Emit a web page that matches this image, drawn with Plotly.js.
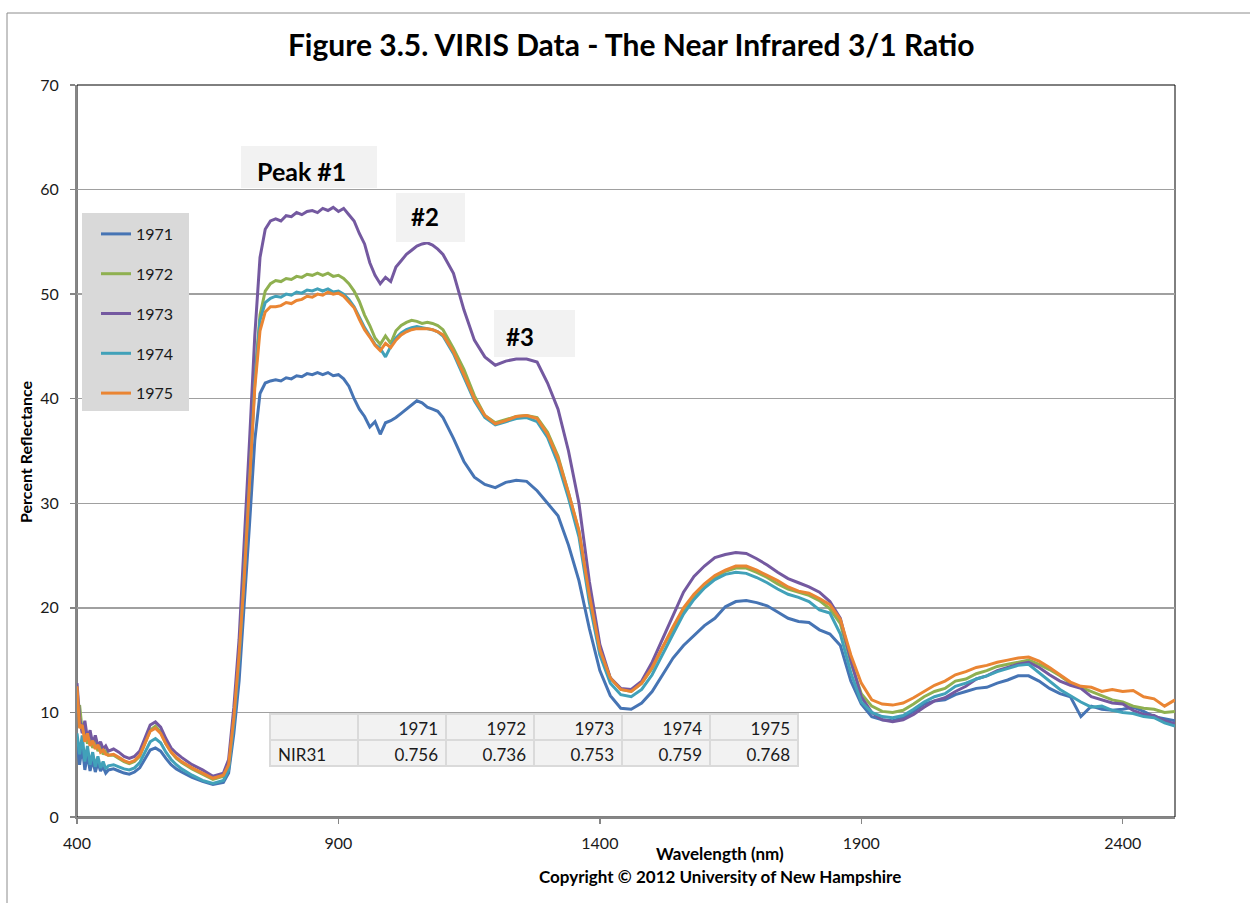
<!DOCTYPE html>
<html>
<head>
<meta charset="utf-8">
<script src="https://cdn.plot.ly/plotly-3.0.1.min.js"></script>
<style>html,body{margin:0;padding:0;background:#fff;}#chart{width:1250px;height:903px;}</style>
</head>
<body>
<div id="chart"></div>
<script>
// Wavelength grid (nm)
const wavelength = [
400,405,410,415,420,425,430,435,440,445,450,455,460,
470,480,490,500,510,520,530,540,550,560,570,580,590,600,
620,640,660,680,
690,700,710,720,730,740,750,760,770,
780,790,800,810,820,830,840,850,860,870,880,890,900,910,920,930,
940,950,960,970,980,990,1000,
1010,1020,1030,1040,1050,1060,1070,1080,1090,1100,
1120,1140,1160,1180,1200,1220,1240,1260,1280,1300,
1320,1340,1360,1380,1400,1420,1440,1460,1480,1500,
1520,1540,1560,1580,1600,1620,1640,1660,1680,1700,
1720,1740,1760,1780,1800,1820,1840,1860,1880,1900,
1920,1940,1960,1980,2000,2020,2040,2060,2080,2100,
2120,2140,2160,2180,2200,2220,2240,2260,2280,2300,
2320,2340,2360,2380,2400,2420,2440,2460,2480,2500
];

const refl1971 = [
7.0,5.0,6.8,4.5,6.0,4.4,5.5,4.3,5.2,4.4,4.8,4.2,4.5,
4.6,4.4,4.2,4.1,4.3,4.7,5.6,6.4,6.6,6.3,5.6,5.0,4.6,4.3,
3.8,3.4,3.1,3.3,
4.2,8.0,13.0,20.0,28.0,36.0,40.5,41.5,41.7,
41.8,41.7,42.0,41.9,42.2,42.1,42.4,42.3,42.5,42.3,42.5,42.2,42.3,41.9,41.2,40.0,
39.0,38.3,37.3,37.8,36.6,37.7,37.9,
38.2,38.6,39.0,39.4,39.8,39.6,39.2,39.0,38.8,38.2,
36.2,34.0,32.5,31.8,31.5,32.0,32.2,32.1,31.2,30.0,
28.8,26.0,22.6,18.0,14.0,11.6,10.4,10.3,10.9,12.0,
13.6,15.2,16.4,17.4,18.3,19.0,20.1,20.6,20.7,20.5,
20.2,19.6,19.0,18.7,18.6,17.9,17.5,16.4,13.0,10.8,
9.6,9.3,9.2,9.5,10.1,10.8,11.1,11.2,11.7,12.0,
12.3,12.4,12.8,13.1,13.5,13.5,13.0,12.3,11.8,11.5,
9.6,10.6,10.3,10.2,10.3,10.5,10.1,9.6,9.4,9.2
];

const refl1972 = [
10.0,10.7,8.2,8.6,7.0,7.8,6.6,7.4,6.3,6.8,6.0,6.3,5.9,
5.9,5.6,5.3,5.1,5.3,5.8,7.0,8.3,8.7,8.1,7.0,6.2,5.6,5.2,
4.6,4.1,3.6,3.9,
4.9,9.5,15.5,23.5,33.0,42.0,48.0,50.3,51.0,
51.3,51.2,51.5,51.4,51.7,51.6,51.9,51.8,52.0,51.8,52.0,51.7,51.8,51.5,51.0,50.3,
49.3,48.0,47.0,45.8,45.2,46.0,45.3,
46.5,47.0,47.3,47.5,47.4,47.2,47.3,47.2,47.0,46.6,
44.8,42.8,40.3,38.4,37.7,38.0,38.3,38.4,38.2,36.8,
34.5,31.0,27.3,21.0,16.0,13.3,12.2,12.0,12.8,14.2,
16.2,18.0,19.8,21.0,22.0,22.9,23.5,23.8,23.8,23.4,
22.9,22.3,21.8,21.5,21.2,20.7,19.9,18.5,14.8,11.8,
10.6,10.1,10.0,10.2,10.8,11.5,12.0,12.3,13.0,13.2,
13.7,14.0,14.4,14.6,14.8,15.0,14.6,14.1,13.5,12.8,
12.4,12.0,11.6,11.2,11.0,10.6,10.4,10.3,10.0,10.1
];

const refl1973 = [
12.8,9.5,8.0,9.2,7.5,8.3,7.0,7.8,6.8,7.2,6.5,6.8,6.3,
6.5,6.2,5.8,5.6,5.8,6.3,7.6,8.8,9.1,8.6,7.5,6.6,6.1,5.7,
5.0,4.5,3.9,4.2,
5.5,10.5,17.0,26.0,36.0,46.0,53.5,56.2,57.0,
57.2,57.0,57.5,57.4,57.8,57.6,57.9,58.0,57.8,58.2,58.0,58.3,57.9,58.2,57.6,57.0,
55.8,54.8,53.0,51.8,51.0,51.6,51.2,
52.6,53.2,53.8,54.2,54.6,54.8,54.9,54.7,54.3,53.8,
52.0,48.5,45.6,44.0,43.2,43.6,43.8,43.8,43.5,41.5,
39.0,35.0,30.0,22.5,16.5,13.3,12.3,12.2,13.0,14.8,
17.0,19.3,21.5,23.0,24.0,24.8,25.1,25.3,25.2,24.7,
24.1,23.4,22.8,22.4,22.0,21.5,20.6,19.0,15.0,11.5,
10.0,9.3,9.1,9.3,9.8,10.5,11.1,11.4,12.0,12.5,
13.2,13.5,14.0,14.3,14.6,14.8,14.3,13.6,13.0,12.6,
12.3,11.5,11.2,10.9,10.8,10.2,9.8,9.7,9.2,8.9
];

const refl1974 = [
8.0,6.0,7.8,5.3,6.8,5.0,6.2,4.8,5.8,4.7,5.3,4.6,4.9,
5.0,4.8,4.6,4.5,4.7,5.2,6.2,7.2,7.5,7.1,6.2,5.5,5.0,4.6,
4.0,3.5,3.2,3.5,
4.5,9.0,15.0,23.0,32.0,41.5,47.5,49.2,49.6,
49.8,49.7,50.0,49.9,50.2,50.1,50.4,50.3,50.5,50.3,50.5,50.2,50.3,50.0,49.5,48.8,
47.8,46.8,46.0,45.2,44.8,44.0,45.0,
45.8,46.3,46.6,46.8,46.9,46.8,46.7,46.6,46.4,46.0,
44.3,42.0,39.8,38.2,37.5,37.8,38.1,38.2,37.8,36.3,
33.8,30.5,26.8,20.5,15.5,12.8,11.7,11.5,12.2,13.6,
15.6,17.5,19.4,20.8,21.9,22.7,23.2,23.4,23.3,22.9,
22.4,21.8,21.3,21.0,20.6,19.8,19.5,17.5,13.8,11.0,
10.0,9.6,9.5,9.7,10.3,11.0,11.5,11.8,12.5,12.8,
13.2,13.5,13.9,14.2,14.5,14.6,13.8,13.0,12.2,11.6,
11.0,10.5,10.6,10.2,10.0,9.9,9.6,9.5,9.0,8.7
];

const refl1975 = [
12.5,8.5,8.8,7.2,8.0,6.8,7.3,6.5,6.9,6.2,6.4,6.0,5.9,
6.0,5.7,5.4,5.2,5.4,5.9,7.0,8.2,8.5,8.0,7.0,6.2,5.7,5.3,
4.7,4.2,3.7,4.0,
5.0,9.5,15.5,23.0,32.0,41.0,46.5,48.3,48.8,
48.8,48.9,49.2,49.1,49.4,49.5,49.8,49.7,50.0,49.9,50.2,50.0,50.1,49.8,49.3,48.7,
47.6,46.6,45.9,45.1,44.6,45.3,44.9,
45.6,46.1,46.4,46.6,46.7,46.7,46.7,46.6,46.4,46.1,
44.5,42.3,40.0,38.4,37.6,37.9,38.3,38.4,38.1,36.6,
34.3,31.0,27.4,21.2,16.0,13.3,12.2,12.0,12.8,14.3,
16.3,18.2,20.0,21.3,22.3,23.1,23.6,24.0,24.0,23.6,
23.1,22.6,22.0,21.6,21.4,20.9,20.3,18.9,15.5,12.8,
11.2,10.8,10.7,10.9,11.4,12.0,12.6,13.0,13.6,13.9,
14.3,14.5,14.8,15.0,15.2,15.3,14.9,14.3,13.6,12.9,
12.5,12.4,12.0,12.2,12.0,12.1,11.5,11.3,10.6,11.2
];

const years = ['1971','1972','1973','1974','1975'];
const nir31 = [0.756, 0.736, 0.753, 0.759, 0.768];
const seriesData = [refl1971, refl1972, refl1973, refl1974, refl1975];
const colors = ['#4674b4','#8fb050','#7459a0','#41a1b9','#ea8533'];
const xTicks = [400, 900, 1400, 1900, 2400];

// Plot area geometry helpers (page pixels -> paper)
const L = 77, R = 1175, T = 85, B = 817;
const px = v => (v - L) / (R - L);
const py = v => 1 - (v - T) / (B - T);

const FONT = 'Lato, "Open Sans", sans-serif';

const traces = seriesData.map((ys, i) => ({
  type: 'scatter', mode: 'lines', name: years[i],
  x: wavelength, y: ys,
  line: {color: colors[i], width: 3},
  legendgroup: 'g' + years[i],
  hoverinfo: 'x+y+name'
}));

traces.push({
  type: 'table',
  domain: {x: [px(270), px(798)], y: [py(767), py(714)]},
  columnwidth: [1,1,1,1,1,1],
  header: {
    values: [''].concat(years),
    align: ['left','right','right','right','right','right'],
    fill: {color: '#f2f2f2'},
    line: {color: '#dadada', width: 2},
    font: {family: FONT, size: 17, color: '#1a1a1a'},
    height: 26
  },
  cells: {
    values: [['NIR31']].concat(nir31.map(v => [v.toFixed(3)])),
    align: ['left','right','right','right','right','right'],
    fill: {color: '#f2f2f2'},
    line: {color: '#dadada', width: 2},
    font: {family: FONT, size: 17, color: '#1a1a1a'},
    height: 26
  }
});

const shapes = [
  // outer frame
  {type: 'rect', xref: 'paper', yref: 'paper', x0: px(7), x1: px(1270), y0: py(920), y1: py(13),
   line: {color: '#8c8c8c', width: 1}, fillcolor: 'rgba(0,0,0,0)', layer: 'below'},
  // plot border
  {type: 'rect', xref: 'paper', yref: 'paper', x0: 0, x1: 1, y0: 0, y1: 1,
   line: {color: '#000000', width: 1}, fillcolor: 'rgba(0,0,0,0)', layer: 'below'},
  // legend background
  {type: 'rect', xref: 'paper', yref: 'paper', x0: px(82), x1: px(189), y0: py(411), y1: py(213),
   line: {width: 0}, fillcolor: '#d9d9d9', layer: 'above'},
  // label boxes
  {type: 'rect', xref: 'paper', yref: 'paper', x0: px(241), x1: px(377), y0: py(188), y1: py(146),
   line: {width: 0}, fillcolor: '#f2f2f2', layer: 'above'},
  {type: 'rect', xref: 'paper', yref: 'paper', x0: px(396), x1: px(465), y0: py(242), y1: py(193),
   line: {width: 0}, fillcolor: '#f2f2f2', layer: 'above'},
  {type: 'rect', xref: 'paper', yref: 'paper', x0: px(494), x1: px(575), y0: py(357), y1: py(310),
   line: {width: 0}, fillcolor: '#f2f2f2', layer: 'above'}
];

const annotations = [
  {text: '<b>Peak #1</b>', xref: 'paper', yref: 'paper', x: px(255), y: py(171), xanchor: 'left', yanchor: 'middle',
   showarrow: false, font: {family: FONT, size: 25, color: '#000'}},
  {text: '<b>#2</b>', xref: 'paper', yref: 'paper', x: px(409), y: py(217), xanchor: 'left', yanchor: 'middle',
   showarrow: false, font: {family: FONT, size: 24, color: '#000'}},
  {text: '<b>#3</b>', xref: 'paper', yref: 'paper', x: px(504), y: py(336), xanchor: 'left', yanchor: 'middle',
   showarrow: false, font: {family: FONT, size: 24, color: '#000'}},
  {text: '<b>Percent Reflectance</b>', xref: 'paper', yref: 'paper', x: px(26), y: py(452), textangle: -90,
   xanchor: 'center', yanchor: 'middle', showarrow: false, font: {family: FONT, size: 16, color: '#000'}},
  {text: '<b>Wavelength (nm)</b>', xref: 'paper', yref: 'paper', x: px(720), y: py(854),
   xanchor: 'center', yanchor: 'middle', showarrow: false, font: {family: FONT, size: 17, color: '#000'}},
  {text: '<b>Copyright © 2012 University of New Hampshire</b>', xref: 'paper', yref: 'paper', x: px(720), y: py(876),
   xanchor: 'center', yanchor: 'middle', showarrow: false, font: {family: FONT, size: 17, color: '#000'}}
];

const layout = {
  width: 1250, height: 903,
  margin: {l: L, r: 1250 - R, t: T, b: 903 - B, pad: 0},
  paper_bgcolor: '#ffffff', plot_bgcolor: '#ffffff',
  font: {family: FONT, size: 16, color: '#1a1a1a'},
  title: {text: '<b>Figure 3.5. VIRIS Data - The Near Infrared 3/1 Ratio</b>',
          x: 0.505, xref: 'container', y: 1 - 45 / 903, yref: 'container', yanchor: 'middle',
          font: {family: FONT, size: 30, color: '#000'}},
  xaxis: {range: [400, 2500], tickvals: xTicks, ticktext: xTicks.map(String),
          showgrid: false, zeroline: false, showline: true, linecolor: '#868686', linewidth: 2,
          ticks: 'outside', ticklen: 5, tickcolor: '#868686', tickwidth: 1.5,
          ticklabelstandoff: 6, tickfont: {family: FONT, size: 16, color: '#1a1a1a'}},
  yaxis: {range: [0, 70], dtick: 10, tick0: 0,
          showgrid: true, gridcolor: '#a0a0a0', gridwidth: 1.3, zeroline: false,
          showline: true, linecolor: '#868686', linewidth: 2,
          ticks: 'outside', ticklen: 5, tickcolor: '#868686', tickwidth: 1.5,
          ticklabelstandoff: 8, tickfont: {family: FONT, size: 16, color: '#1a1a1a'}},
  legend: {x: px(96), y: py(217), xanchor: 'left', yanchor: 'top', bgcolor: 'rgba(0,0,0,0)',
           font: {family: FONT, size: 16, color: '#1a1a1a'}, tracegroupgap: 16, itemwidth: 30},
  showlegend: true,
  shapes: shapes,
  annotations: annotations
};

Plotly.newPlot('chart', traces, layout, {displayModeBar: false, staticPlot: true});
</script>
</body>
</html>
